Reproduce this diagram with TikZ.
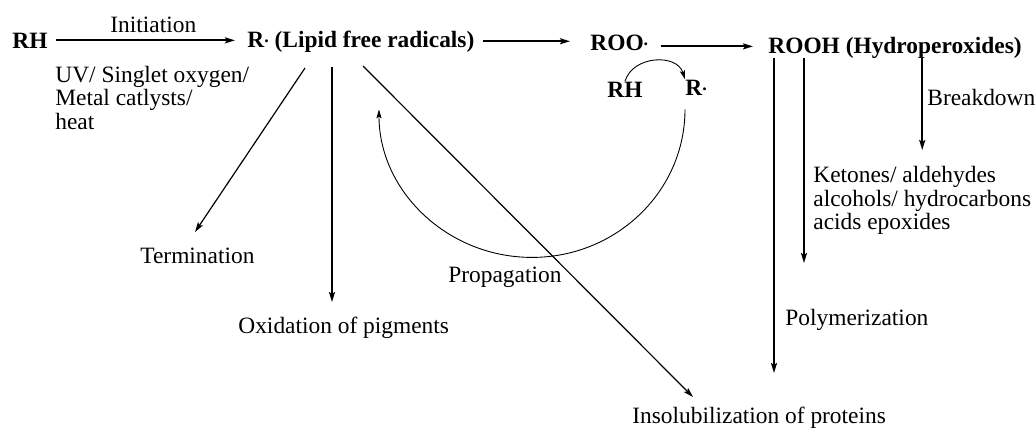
\documentclass[tikz,border=0pt]{standalone}
\usepackage{fontspec}
\setmainfont{Liberation Serif}
\usetikzlibrary{arrows.meta,calc}
\newcommand{\rdot}{\raisebox{.2em}{\small .}}

\begin{document}
\begin{tikzpicture}[x=0.5pt, y=0.5pt,
  txt/.style={inner sep=0, anchor=base west, font=\fontsize{11.7}{14}\selectfont},
  chem/.style={txt, font=\fontsize{11.7}{14}\selectfont\bfseries},
  main/.style={line width=0.9pt, -{Stealth[length=5pt,width=3pt,inset=1pt]}},
  side/.style={line width=0.6pt, -{Stealth[length=5pt,width=3pt,inset=1pt]}},
  loop/.style={line width=0.45pt, -{Stealth[length=4.5pt,width=2.6pt,inset=1pt]}}]
\useasboundingbox (0,0) rectangle (1035,-430);

%species
\node[chem] (rh) at (12,-48) {RH};
\node[chem] (rlipid) at (247,-47) {R\rdot{} (Lipid free radicals)};
\node[chem] (roo) at (590,-50) {ROO\rdot};
\node[chem] (rooh) at (768,-53) {ROOH (Hydroperoxides)};
\node[chem] (srh) at (607,-97) {RH};
\node[chem] (sr) at (685,-95) {R\rdot};

%labels
\node[txt] (init) at (110,-32) {Initiation};
\node[txt, anchor=north west, align=left, font=\fontsize{11.7}{10.3}\selectfont] (cat) at (55,-66) {UV/ Singlet oxygen/\\Metal catlysts/\\heat};
\node[txt] (brk) at (927,-105) {Breakdown};
\node[txt, anchor=north west, align=left, font=\fontsize{11.7}{11.75}\selectfont] (ket) at (813,-166) {Ketones/ aldehydes\\alcohols/ hydrocarbons\\acids epoxides};
\node[txt] (term) at (140,-263) {Termination};
\node[txt] (oxid) at (238,-333) {Oxidation of pigments};
\node[txt] (prop) at (448,-282) {Propagation};
\node[txt] (poly) at (785,-325) {Polymerization};
\node[txt] (insol) at (632,-423) {Insolubilization of proteins};

%free ends
\coordinate (termstart) at (305,-68);
\coordinate (termend) at (195,-232);
\coordinate (oxidstart) at (332,-67);
\coordinate (oxidend) at (332,-302);
\coordinate (insolstart) at (363,-66);
\coordinate (insolend) at (693,-397);
\coordinate (polyend) at (774,-373);
\coordinate (ketend) at (804,-263);

%main chain
\draw[main, shorten <=4pt, shorten >=6pt] (rh.east) -- (rh.east -| rlipid.west);
\draw[main, shorten <=4pt, shorten >=10pt] (rlipid.east) -- (rlipid.east -| roo.west);
\draw[main, shorten <=6pt, shorten >=7.5pt] ([yshift=-2pt]roo.east) -- ([yshift=-2pt]roo.east -| rooh.west);

%from R.
\draw[side] (termstart) -- (termend);
\draw[main] (oxidstart) -- (oxidend);
\draw[side] (insolstart) -- (insolend);

%from ROOH
\draw[main] (polyend |- rooh.south) -- (polyend);
\draw[main] (ketend |- rooh.south) -- (ketend);
\draw[main, shorten >=8pt] (ket.north |- rooh.south) -- (ket.north);

%propagation
\draw[loop] (srh.north) .. controls +(8,26) and +(-8,26) .. (sr.north west);
\draw[loop] ([yshift=-7pt]sr.south west) arc[start angle=0, end angle=-180, x radius=153, y radius=148];
\end{tikzpicture}
\end{document}
